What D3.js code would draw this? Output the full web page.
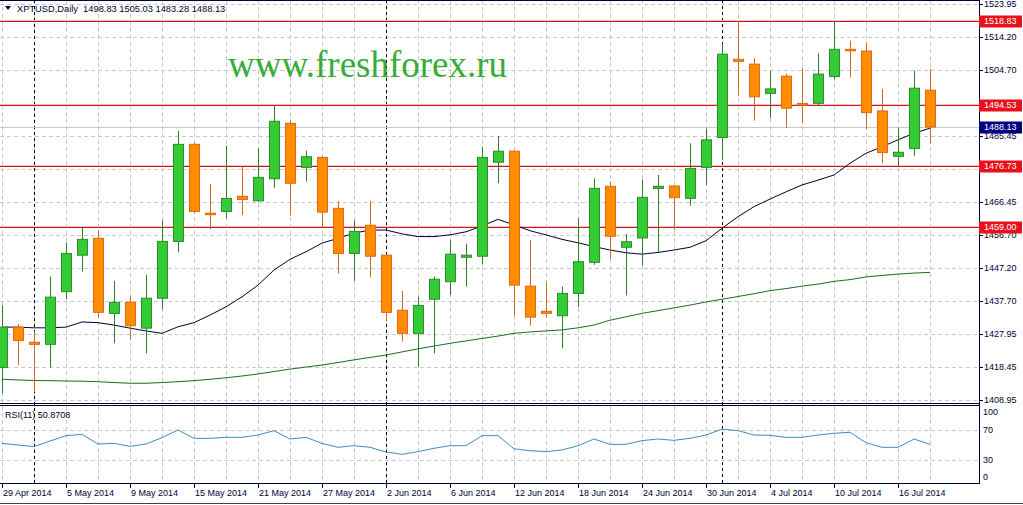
<!DOCTYPE html>
<html lang="en">
<head>
<meta charset="utf-8">
<title>XPTUSD Daily</title>
<script src="https://d3js.org/d3.v7.min.js"></script>
<style>
body { margin: 0; background: #fff; }
text { font-family: Tahoma, "Liberation Sans", Arial, sans-serif; font-size: 9px; }
.mark { font-family: "Liberation Serif", "Times New Roman", serif; font-size: 37px; }
</style>
</head>
<body>
<div id="chart"></div>
<script>

// ---- data ----
var dates = ["29 Apr 2014","30 Apr 2014","1 May 2014","2 May 2014","5 May 2014","6 May 2014","7 May 2014","8 May 2014",
  "9 May 2014","12 May 2014","13 May 2014","14 May 2014","15 May 2014","16 May 2014","19 May 2014","20 May 2014",
  "21 May 2014","22 May 2014","23 May 2014","26 May 2014","27 May 2014","28 May 2014","29 May 2014","30 May 2014",
  "2 Jun 2014","3 Jun 2014","4 Jun 2014","5 Jun 2014","6 Jun 2014","9 Jun 2014","10 Jun 2014","11 Jun 2014",
  "12 Jun 2014","13 Jun 2014","16 Jun 2014","17 Jun 2014","18 Jun 2014","19 Jun 2014","20 Jun 2014","23 Jun 2014",
  "24 Jun 2014","25 Jun 2014","26 Jun 2014","27 Jun 2014","30 Jun 2014","1 Jul 2014","2 Jul 2014","3 Jul 2014",
  "4 Jul 2014","7 Jul 2014","8 Jul 2014","9 Jul 2014","10 Jul 2014","11 Jul 2014","14 Jul 2014","15 Jul 2014",
  "16 Jul 2014","17 Jul 2014","18 Jul 2014"];

var open  = [1418.3,1430.0,1425.6,1425.0,1440.3,1450.9,1455.8,1434.0,1437.2,1429.7,1438.4,1454.9,1483.1,1463.1,1463.6,1468.0,
  1466.7,1473.1,1489.2,1476.4,1479.3,1464.5,1451.4,1459.6,1450.9,1434.9,1428.2,1438.1,1443.2,1450.3,1450.6,1477.9,
  1481.1,1441.9,1434.6,1433.3,1439.8,1448.8,1470.9,1453.2,1455.9,1470.3,1471.0,1467.4,1476.4,1485.1,1507.8,1506.4,
  1497.9,1502.9,1495.0,1495.0,1502.8,1510.7,1510.2,1492.8,1479.6,1481.9,1498.83];
var high  = [1436.3,1430.9,1428.9,1444.7,1454.5,1458.9,1458.2,1443.4,1439.1,1445.2,1461.1,1487.0,1483.6,1471.6,1482.6,1476.6,
  1481.9,1494.2,1490.0,1481.2,1479.7,1466.6,1461.1,1466.6,1451.3,1440.5,1438.8,1444.7,1455.3,1454.2,1482.4,1485.5,
  1481.5,1455.3,1443.0,1441.8,1461.6,1473.2,1472.3,1457.0,1472.9,1474.2,1471.2,1483.4,1487.6,1512.4,1518.83,1508.1,
  1504.5,1503.7,1505.3,1509.5,1518.83,1513.2,1512.6,1499.2,1487.9,1504.5,1505.03];
var low   = [1410.8,1419.0,1411.2,1418.3,1438.1,1446.1,1432.9,1425.3,1426.3,1422.4,1435.2,1451.7,1463.1,1458.4,1461.6,1462.6,
  1466.3,1470.5,1462.4,1472.3,1458.9,1445.6,1443.5,1444.5,1431.8,1425.8,1418.5,1422.4,1439.3,1441.8,1448.2,1471.8,
  1433.3,1430.4,1432.9,1423.9,1435.8,1448.1,1449.7,1439.2,1447.9,1451.9,1458.2,1465.3,1471.3,1478.6,1497.2,1490.0,
  1490.7,1487.8,1489.2,1494.5,1502.0,1502.5,1487.5,1477.6,1476.73,1479.8,1483.28];
var close = [1430.0,1426.1,1425.0,1438.7,1451.4,1455.5,1434.3,1437.2,1430.4,1438.4,1454.9,1483.1,1463.6,1462.7,1467.4,1467.1,
  1473.5,1489.8,1471.8,1479.5,1463.4,1451.4,1457.8,1450.6,1434.3,1428.2,1436.3,1443.9,1451.2,1450.9,1479.3,1481.1,
  1442.2,1432.9,1434.0,1439.8,1449.0,1470.3,1456.4,1454.8,1467.7,1470.9,1467.6,1476.1,1484.4,1509.3,1507.2,1496.9,
  1499.2,1493.6,1494.5,1503.5,1510.7,1510.3,1492.3,1480.7,1480.8,1499.4,1488.13];

// short moving average (dark line)
var maShort = [1430.0,1430.0,1429.8,1429.8,1430.0,1431.5,1431.3,1430.6,1429.7,1428.9,1428.2,1430.1,1431.3,1433.5,1435.9,1438.8,
  1442.2,1446.6,1449.7,1451.9,1454.4,1455.8,1457.3,1458.2,1458.2,1457.1,1456.3,1456.3,1456.8,1457.7,1459.4,1461.3,
  1459.7,1458.0,1456.8,1455.5,1454.5,1453.4,1452.4,1451.6,1451.2,1451.7,1452.4,1453.2,1455.1,1458.7,1462.1,1465.0,
  1467.2,1469.3,1471.3,1472.7,1474.2,1477.6,1480.5,1482.4,1484.4,1486.3,1487.8];
// long moving average (green line)
var maLong = [1414.85,1414.65,1414.5,1414.45,1414.35,1414.3,1414.15,1413.9,1413.7,1413.7,1413.9,1414.15,1414.45,1414.85,1415.3,1415.8,
  1416.4,1417.1,1417.8,1418.4,1419.0,1419.7,1420.5,1421.2,1421.9,1422.8,1423.7,1424.5,1425.3,1426.0,1426.7,1427.4,
  1428.2,1428.6,1428.9,1429.2,1429.8,1430.6,1432.0,1433.0,1434.0,1434.8,1435.6,1436.4,1437.3,1438.1,1438.9,1439.7,
  1440.6,1441.2,1441.9,1442.5,1443.3,1443.8,1444.6,1445.0,1445.4,1445.7,1445.9];

var rsi = [52.2,50.0,47.8,55.3,62.4,64.2,51.3,52.2,48.2,51.3,59.8,70.0,58.9,58.9,60.2,60.2,
  63.3,69.1,58.0,60.2,52.2,46.9,49.1,46.9,40.7,37.6,41.1,45.6,49.1,49.1,62.4,62.4,
  45.0,42.4,41.1,43.3,49.1,58.0,50.9,50.9,55.8,58.0,56.2,58.9,63.3,71.3,69.1,63.3,
  63.0,60.2,60.2,63.3,65.6,66.9,53.1,46.9,46.9,58.0,50.87];

// grid ticks; the two under the level tags carry no visible label
var priceTicks = [1523.95,1514.20,1504.70,1494.95,1485.45,1475.95,1466.45,1456.70,1447.20,1437.70,1427.95,1418.45,1408.95];
var priceLabels = [1523.95,1514.20,1504.70,1485.45,1466.45,1456.70,1447.20,1437.70,1427.95,1418.45,1408.95];
var rsiTicks = [100, 70, 30, 0];
var rsiLevels = [70, 30];
var dateTicks = ["29 Apr 2014","5 May 2014","9 May 2014","15 May 2014","21 May 2014","27 May 2014","2 Jun 2014",
  "6 Jun 2014","12 Jun 2014","18 Jun 2014","24 Jun 2014","30 Jun 2014","4 Jul 2014","10 Jul 2014","16 Jul 2014"];
var monthStarts = ["1 May 2014","2 Jun 2014","1 Jul 2014"];
var levels = [1518.83, 1494.53, 1476.73, 1459.00];
var lastPrice = 1488.13;

// ---- layout ----
var W = 1023, H = 505;
var plotRight = 979, mainBottom = 403, rsiTop = 405, rsiBottom = 483;

var svg = d3.select("#chart").append("svg")
  .attr("width", W).attr("height", H);

svg.append("defs").append("clipPath").attr("id", "clip")
  .append("rect").attr("x", 0).attr("y", 0).attr("width", plotRight).attr("height", mainBottom);

var x = d3.scalePoint().domain(dates).range([2, 2 + 16 * (dates.length - 1)]);
var y = d3.scaleLinear().domain([1408.95, 1523.95]).range([399.6, 3.7]);
var yr = d3.scaleLinear().domain([0, 100]).range([482.5, 407.5]);

var gridColor = "#c8c8c8";

// vertical grid, every second bar
var vgrid = dates.filter(function(d, i) { return i % 2 == 0; });
svg.append("g").selectAll("line").data(vgrid).enter().append("line")
  .attr("x1", function(d) { return x(d) + 0.5; }).attr("x2", function(d) { return x(d) + 0.5; })
  .attr("y1", 0).attr("y2", rsiBottom)
  .attr("stroke", gridColor).attr("stroke-dasharray", "4,3");

// horizontal grid in price panel
svg.append("g").selectAll("line").data(priceTicks).enter().append("line")
  .attr("x1", 0).attr("x2", plotRight)
  .attr("y1", function(d) { return Math.round(y(d)) + 0.5; }).attr("y2", function(d) { return Math.round(y(d)) + 0.5; })
  .attr("stroke", gridColor).attr("stroke-dasharray", "4,3");

// rsi levels
svg.append("g").selectAll("line").data(rsiLevels).enter().append("line")
  .attr("x1", 0).attr("x2", plotRight)
  .attr("y1", function(d) { return Math.round(yr(d)) + 0.5; }).attr("y2", function(d) { return Math.round(yr(d)) + 0.5; })
  .attr("stroke", gridColor).attr("stroke-dasharray", "4,3");

// month separators
svg.append("g").selectAll("line").data(monthStarts).enter().append("line")
  .attr("x1", function(d) { return x(d) + 0.5; }).attr("x2", function(d) { return x(d) + 0.5; })
  .attr("y1", 0).attr("y2", rsiBottom)
  .attr("stroke", "#000").attr("stroke-dasharray", "3,3");

// bid line
svg.append("line")
  .attr("x1", 0).attr("x2", plotRight)
  .attr("y1", Math.round(y(lastPrice)) + 0.5).attr("y2", Math.round(y(lastPrice)) + 0.5)
  .attr("stroke", "#c8c8c8");

// horizontal levels (red line with a faint pink edge, as in the screenshot)
var lv = svg.append("g").selectAll("g").data(levels).enter().append("g")
  .attr("transform", function(d) { return "translate(0," + Math.round(y(d)) + ")"; });
lv.append("line").attr("x1", 0).attr("x2", plotRight).attr("y1", -0.5).attr("y2", -0.5).attr("stroke", "#f3c4c4");
lv.append("line").attr("x1", 0).attr("x2", plotRight).attr("y1", 0.5).attr("y2", 0.5).attr("stroke", "#d41018");

// watermark
svg.append("text").attr("class", "mark")
  .attr("x", 228).attr("y", 77)
  .attr("fill", "#36ad36")
  .text("www.freshforex.ru");

// moving averages
var plot = svg.append("g").attr("clip-path", "url(#clip)");
var maLine = d3.line().x(function(d, i) { return x(dates[i]); }).y(function(d) { return y(d); });
plot.append("path").datum(maLong).attr("d", maLine)
  .attr("fill", "none").attr("stroke", "#1f6b1f").attr("stroke-width", 1);
plot.append("path").datum(maShort).attr("d", maLine)
  .attr("fill", "none").attr("stroke", "#000033").attr("stroke-width", 1);

// candles
var bars = dates.map(function(d, i) {
  return {date: d, o: open[i], h: high[i], l: low[i], c: close[i]};
});
var up = function(d) { return d.c >= d.o; };

var candle = plot.append("g").selectAll("g").data(bars).enter().append("g");
candle.append("line")
  .attr("x1", function(d) { return x(d.date) + 0.5; }).attr("x2", function(d) { return x(d.date) + 0.5; })
  .attr("y1", function(d) { return y(d.h); }).attr("y2", function(d) { return y(d.l); })
  .attr("stroke", function(d) { return up(d) ? "#2e7d2e" : "#d2691e"; });
candle.append("rect")
  .attr("x", function(d) { return x(d.date) - 4.5; })
  .attr("y", function(d) { return y(Math.max(d.o, d.c)); })
  .attr("width", 10)
  .attr("height", function(d) { return Math.max(1.5, Math.abs(y(d.o) - y(d.c))); })
  .attr("fill", function(d) { return up(d) ? "#33cc33" : "#ff8c00"; })
  .attr("stroke", function(d) { return up(d) ? "#2e8b2e" : "#dd6a14"; });

// rsi line
var rsiLine = d3.line().x(function(d, i) { return x(dates[i]); }).y(function(d) { return yr(d); });
svg.append("path").datum(rsi).attr("d", rsiLine)
  .attr("fill", "none").attr("stroke", "#3d8ebf").attr("stroke-width", 1);

// frames
var frame = "#000033";
svg.append("line").attr("x1", 0).attr("x2", plotRight).attr("y1", 0.5).attr("y2", 0.5).attr("stroke", frame);
svg.append("line").attr("x1", 0).attr("x2", plotRight + 1).attr("y1", mainBottom + 0.5).attr("y2", mainBottom + 0.5).attr("stroke", frame);
svg.append("line").attr("x1", 0).attr("x2", plotRight + 1).attr("y1", rsiTop + 0.5).attr("y2", rsiTop + 0.5).attr("stroke", frame);
svg.append("line").attr("x1", 0).attr("x2", plotRight + 1).attr("y1", rsiBottom + 0.5).attr("y2", rsiBottom + 0.5).attr("stroke", frame);
svg.append("line").attr("x1", plotRight + 0.5).attr("x2", plotRight + 0.5).attr("y1", 0).attr("y2", rsiBottom + 1).attr("stroke", frame);

// price axis ticks and labels
svg.append("g").selectAll("line").data(priceTicks).enter().append("line")
  .attr("x1", plotRight).attr("x2", plotRight + 4)
  .attr("y1", function(d) { return Math.round(y(d)) + 0.5; }).attr("y2", function(d) { return Math.round(y(d)) + 0.5; })
  .attr("stroke", frame);
svg.append("g").selectAll("text").data(priceLabels).enter().append("text")
  .attr("x", plotRight + 5).attr("y", function(d) { return Math.round(y(d)); })
  .attr("dy", "0.35em").attr("fill", "#000033")
  .text(function(d) { return d.toFixed(2); });

// rsi axis labels
svg.append("g").selectAll("text").data(rsiTicks).enter().append("text")
  .attr("x", plotRight + 4)
  .attr("y", function(d) { return d == 100 ? 415 : d == 0 ? 480 : yr(d) + 3; })
  .attr("fill", "#000033")
  .text(function(d) { return d; });

// level tags on the axis
var tags = svg.append("g").selectAll("g").data(levels).enter().append("g")
  .attr("transform", function(d) { return "translate(" + plotRight + "," + Math.round(y(d)) + ")"; });
tags.append("rect").attr("x", 0).attr("y", -5.5).attr("width", 43).attr("height", 12).attr("fill", "#e8101a");
tags.append("text").attr("x", 5).attr("dy", "0.38em").attr("fill", "#fff")
  .text(function(d) { return d.toFixed(2); });

var bid = svg.append("g").attr("transform", "translate(" + plotRight + "," + Math.round(y(lastPrice)) + ")");
bid.append("rect").attr("x", 0).attr("y", -5.5).attr("width", 43).attr("height", 12).attr("fill", "#000080");
bid.append("text").attr("x", 5).attr("dy", "0.38em").attr("fill", "#fff").text(lastPrice.toFixed(2));

// date axis
var dAxis = svg.append("g").selectAll("g").data(dateTicks).enter().append("g")
  .attr("transform", function(d) { return "translate(" + x(d) + "," + rsiBottom + ")"; });
dAxis.append("line").attr("x1", 0.5).attr("x2", 0.5).attr("y1", 0).attr("y2", 5).attr("stroke", frame);
dAxis.append("text").attr("x", 1).attr("y", 13).attr("fill", "#000033").text(function(d) { return d; });

// header and indicator name
svg.append("path").attr("d", "M5,6 L11,6 L8,10 Z").attr("fill", "#000033");
svg.append("text").attr("x", 17).attr("y", 12).attr("fill", "#000033")
  .style("font-size", "9.3px").style("white-space", "pre")
  .text("XPTUSD,Daily  1498.83 1505.03 1483.28 1488.13");
svg.append("text").attr("x", 5).attr("y", 418).attr("fill", "#000033")
  .text("RSI(11) 50.8708");

// window strip at the bottom
svg.append("line").attr("x1", 0).attr("x2", W).attr("y1", 503.5).attr("y2", 503.5).attr("stroke", "#404040");

</script>
</body>
</html>
